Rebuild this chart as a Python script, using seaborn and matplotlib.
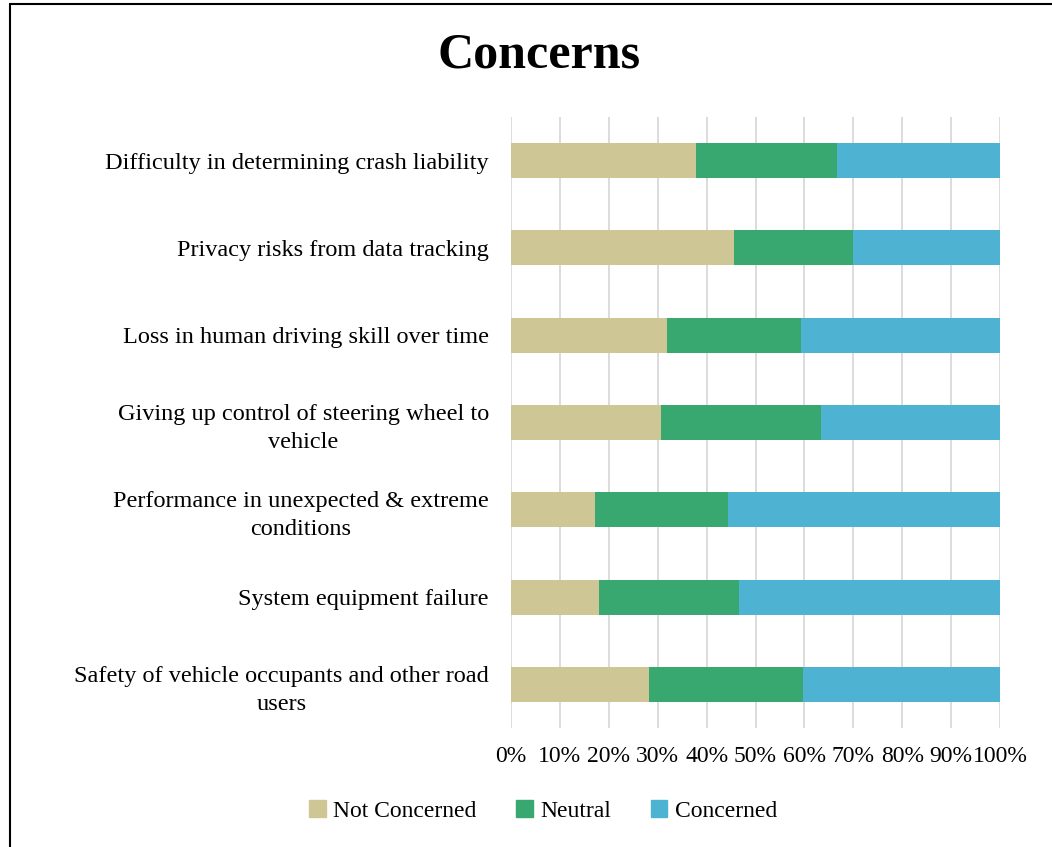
import matplotlib
matplotlib.use("Agg")
import matplotlib.pyplot as plt
import seaborn as sns
import pandas as pd
from matplotlib.patches import Rectangle

# データ
categories = [
    "Difficulty in determining crash liability",
    "Privacy risks from data tracking",
    "Loss in human driving skill over time",
    "Giving up control of steering wheel to\nvehicle",
    "Performance in unexpected & extreme\nconditions",
    "System equipment failure",
    "Safety of vehicle occupants and other road\nusers",
]
not_concerned = [37.8, 45.6, 31.9, 30.7, 17.2, 18.0, 28.2]
neutral = [28.9, 24.3, 27.4, 32.7, 27.2, 28.6, 31.5]
concerned = [33.3, 30.1, 40.7, 36.6, 55.6, 53.4, 40.3]

series = ["Not Concerned", "Neutral", "Concerned"]
colors = ["#CFC695", "#38A870", "#4EB3D3"]

sns.set_theme(style="white")
plt.rcParams['font.family'] = ['Liberation Serif', 'DejaVu Serif']
plt.rcParams['text.color'] = 'black'
plt.rcParams['xtick.color'] = 'black'
plt.rcParams['ytick.color'] = 'black'

df = pd.DataFrame({
    "category": categories,
    "nc": not_concerned,
    "ne": neutral,
    "co": concerned,
})
df["cum1"] = df["nc"]
df["cum2"] = df["nc"] + df["ne"]
df["cum3"] = df["cum2"] + df["co"]

fig = plt.figure(figsize=(10.52, 8.47), dpi=100)
ax = fig.add_axes([511 / 1052, 1 - 728 / 847, 489 / 1052, 611 / 847])

# 積み上げ（大きい方から描く）
for col, color in zip(["cum3", "cum2", "cum1"], colors[::-1]):
    sns.barplot(data=df, x=col, y="category", orient="h", color=color,
                width=0.4, ax=ax, saturation=1, edgecolor="none", zorder=2)

fs = 17.5
ax.set_xlim(0, 100)
ax.set_xticks(range(0, 101, 10))
ax.set_xticklabels([f"{v}%" for v in range(0, 101, 10)], fontsize=17)
ax.grid(True, axis="x", color="#d9d9d9", linewidth=1.3, zorder=0)
ax.set_axisbelow(True)
for s in ax.spines.values():
    s.set_visible(False)
ax.tick_params(axis="both", length=0)
ax.tick_params(axis="x", pad=13)
ax.tick_params(axis="y", pad=16)
ax.set_xlabel("")
ax.set_ylabel("")
for lbl in ax.get_yticklabels():
    lbl.set_fontsize(fs)
    lbl.set_multialignment("center")
    lbl.set_linespacing(1.45)

fig.text(539 / 1052, 1 - 55 / 847, "Concerns", ha="center", va="center",
         fontsize=36, fontweight="bold")

handles = [Rectangle((0, 0), 1, 1, color=c) for c in colors]
fig.legend(handles, series, loc="center", bbox_to_anchor=(543 / 1052, 1 - 811 / 847),
           ncol=3, frameon=False, fontsize=17, handlelength=0.7, handleheight=0.7,
           handletextpad=0.3, columnspacing=1.7)

# 外枠
fig.add_artist(plt.Line2D([10 / 1052, 10 / 1052], [0, 1 - 4 / 847], color="black",
                          linewidth=1.5, transform=fig.transFigure))
fig.add_artist(plt.Line2D([10 / 1052, 1], [1 - 4 / 847, 1 - 4 / 847], color="black",
                          linewidth=1.5, transform=fig.transFigure))

fig.savefig("out.png", dpi=100, facecolor="white")
